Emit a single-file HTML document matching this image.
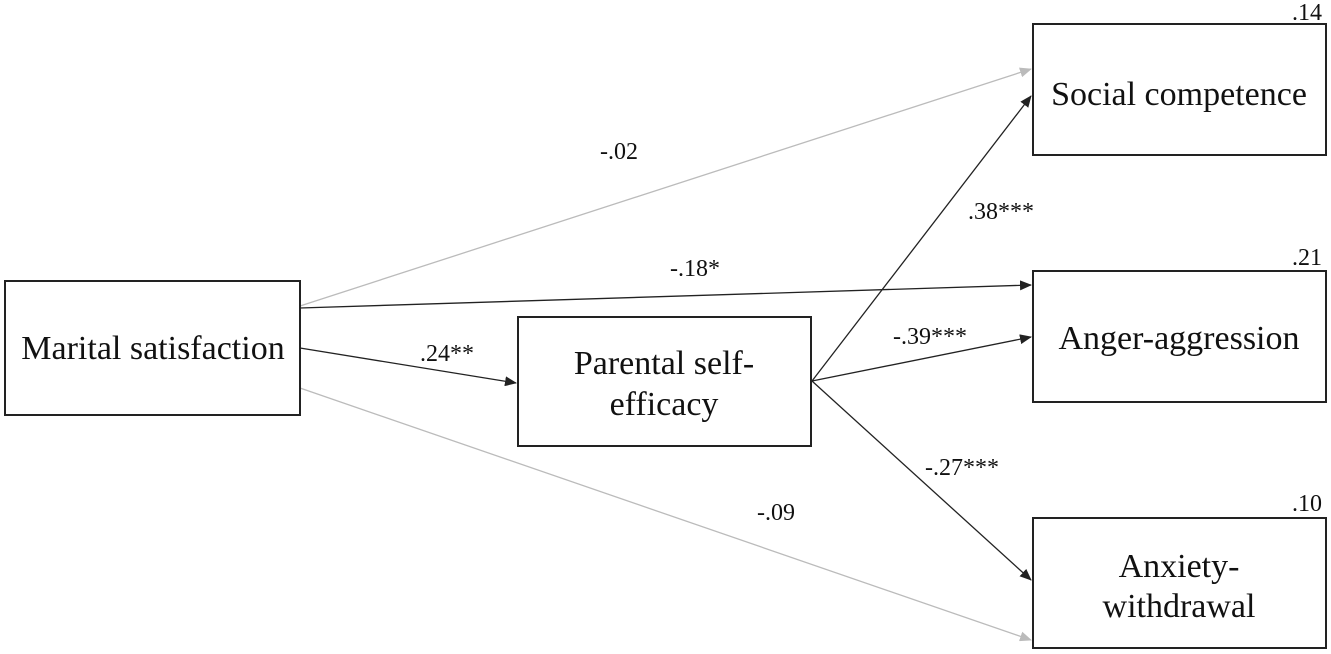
<!DOCTYPE html>
<html><head><meta charset="utf-8"><style>
html,body{margin:0;padding:0;background:#fff;}
svg{display:block;font-family:"Liberation Serif",serif;}
</style></head><body>
<svg width="1331" height="654" viewBox="0 0 1331 654" xmlns="http://www.w3.org/2000/svg">
<defs>
<marker id="ab" markerWidth="12" markerHeight="10" refX="11" refY="5" orient="auto" markerUnits="userSpaceOnUse"><path d="M0,0 L12,5 L0,10 Z" fill="#222"/></marker>
<marker id="ag" markerWidth="12" markerHeight="10" refX="11" refY="5" orient="auto" markerUnits="userSpaceOnUse"><path d="M0,0 L12,5 L0,10 Z" fill="#bbb"/></marker>
</defs>
<g fill="none" stroke-width="1.3">
<line x1="300" y1="306" x2="1031" y2="69" stroke="#bbb" marker-end="url(#ag)"/>
<line x1="300" y1="308" x2="1031" y2="285" stroke="#222" marker-end="url(#ab)"/>
<line x1="300" y1="348" x2="516" y2="383" stroke="#222" marker-end="url(#ab)"/>
<line x1="300" y1="388" x2="1031" y2="640" stroke="#bbb" marker-end="url(#ag)"/>
<line x1="812" y1="381" x2="1031" y2="96" stroke="#222" marker-end="url(#ab)"/>
<line x1="812" y1="381" x2="1031" y2="337" stroke="#222" marker-end="url(#ab)"/>
<line x1="812" y1="381" x2="1031" y2="580" stroke="#222" marker-end="url(#ab)"/>
</g>
<g fill="#fff" stroke="#222" stroke-width="2">
<rect x="5" y="281" width="295" height="134"/>
<rect x="518" y="317" width="293" height="129"/>
<rect x="1033" y="24" width="293" height="131"/>
<rect x="1033" y="271" width="293" height="131"/>
<rect x="1033" y="518" width="293" height="130"/>
</g>
<g fill="#111" font-size="34" text-anchor="middle">
<text x="153" y="359">Marital satisfaction</text>
<text x="664" y="374">Parental self-</text>
<text x="664" y="415">efficacy</text>
<text x="1179" y="105">Social competence</text>
<text x="1179" y="349">Anger-aggression</text>
<text x="1179" y="577">Anxiety-</text>
<text x="1179" y="617">withdrawal</text>
</g>
<g fill="#111" font-size="24">
<text x="600" y="159">-.02</text>
<text x="670" y="276">-.18*</text>
<text x="420" y="361">.24**</text>
<text x="968" y="219">.38***</text>
<text x="893" y="344">-.39***</text>
<text x="925" y="475">-.27***</text>
<text x="757" y="520">-.09</text>
<text x="1292" y="20">.14</text>
<text x="1292" y="265">.21</text>
<text x="1292" y="511">.10</text>
</g>
</svg>
</body></html>
